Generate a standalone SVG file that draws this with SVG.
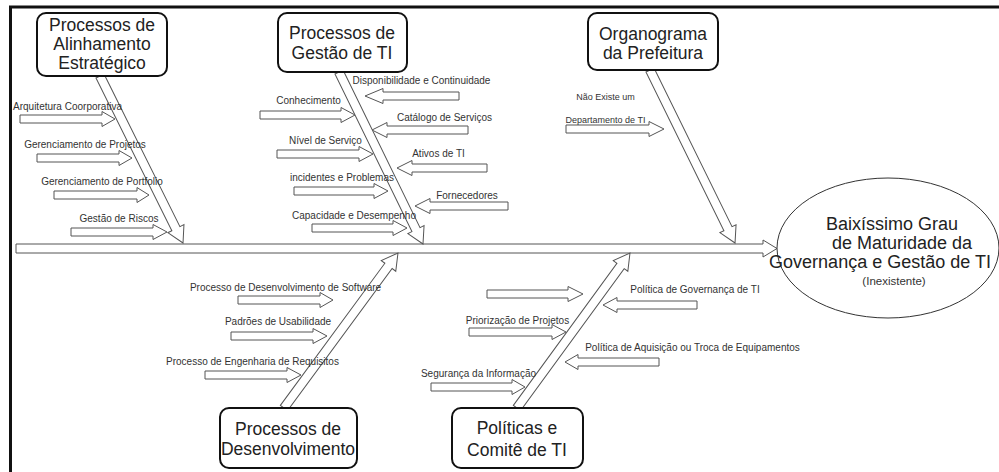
<svg xmlns="http://www.w3.org/2000/svg" width="999" height="472" viewBox="0 0 999 472">
<style>
.frame{stroke:#111;stroke-width:3;fill:none}
.box{fill:#fff;stroke:#111;stroke-width:2}
.bt{font-family:"Liberation Sans",Arial,sans-serif;font-size:17.5px;fill:#222;text-anchor:middle}
.lbl{font-family:"Liberation Sans",Arial,sans-serif;font-size:10px;fill:#333;text-anchor:middle}
.sm{font-size:9px}
.arr{fill:#fff;stroke:#555;stroke-width:1}
.bone{fill:#fff;stroke:#555;stroke-width:1}
.ell{fill:#fff;stroke:#333;stroke-width:1}
.et{font-family:"Liberation Sans",Arial,sans-serif;font-size:18px;fill:#222;text-anchor:middle}
.es{font-family:"Liberation Sans",Arial,sans-serif;font-size:11.5px;fill:#333;text-anchor:middle}
</style>
<rect width="999" height="472" fill="#fff"/>
<path class="frame" d="M10.5,472 V7 H999"/>
<g id="connectors">
<polygon class="bone" points="16,244 763,244 763,240 777,248.5 763,257 763,253 16,253"/>
<polygon class="bone" transform="translate(100,76) rotate(63.57)" points="0,-4.5 170.5,-4.5 170.5,-9 186.5,0 170.5,9 170.5,4.5 0,4.5"/>
<polygon class="bone" transform="translate(339,72) rotate(63.97)" points="0,-4.5 175.4,-4.5 175.4,-9 191.4,0 175.4,9 175.4,4.5 0,4.5"/>
<polygon class="bone" transform="translate(650,70) rotate(63.83)" points="0,-4.5 176.8,-4.5 176.8,-9 192.8,0 176.8,9 176.8,4.5 0,4.5"/>
<polygon class="bone" transform="translate(284,408) rotate(-53.67)" points="0,-4.5 176.4,-4.5 176.4,-9 192.4,0 176.4,9 176.4,4.5 0,4.5"/>
<polygon class="bone" transform="translate(517,408) rotate(-53.91)" points="0,-4.5 175.8,-4.5 175.8,-9 191.8,0 175.8,9 175.8,4.5 0,4.5"/>
<polygon class="arr" points="20,115 102,115 102,111.5 115,119 102,126.5 102,123 20,123"/>
<polygon class="arr" points="37,154 119,154 119,150.5 132,158 119,165.5 119,162 37,162"/>
<polygon class="arr" points="54,191 137,191 137,187.5 149,195 137,202.5 137,199 54,199"/>
<polygon class="arr" points="71,228 153,228 153,224.5 167,232 153,239.5 153,236 71,236"/>
<polygon class="arr" points="459,92 383,92 383,88.5 365,96 383,103.5 383,100 459,100"/>
<polygon class="arr" points="260,111 341,111 341,107.5 355,115 341,122.5 341,119 260,119"/>
<polygon class="arr" points="468,126 387,126 387,122.5 372,130 387,137.5 387,134 468,134"/>
<polygon class="arr" points="277,150 359,150 359,146.5 373,154 359,161.5 359,158 277,158"/>
<polygon class="arr" points="487,164 412,164 412,160.5 397,168 412,175.5 412,172 487,172"/>
<polygon class="arr" points="294,187 374,187 374,183.5 388,191 374,198.5 374,195 294,195"/>
<polygon class="arr" points="508,202 430,202 430,198.5 415,206 430,213.5 430,210 508,210"/>
<polygon class="arr" points="312,224 393,224 393,220.5 407,228 393,235.5 393,232 312,232"/>
<polygon class="arr" points="566,125 649,125 649,121.5 664,129 649,136.5 649,133 566,133"/>
<polygon class="arr" points="238,296 320,296 320,292.5 333,300 320,307.5 320,304 238,304"/>
<polygon class="arr" points="231,332 313,332 313,328.5 327,336 313,343.5 313,340 231,340"/>
<polygon class="arr" points="205,371 287,371 287,367.5 301,375 287,382.5 287,379 205,379"/>
<polygon class="arr" points="487,290 568,290 568,286.5 583,294 568,301.5 568,298 487,298"/>
<polygon class="arr" points="697,301 617,301 617,297.5 603,305 617,312.5 617,309 697,309"/>
<polygon class="arr" points="469,328 552,328 552,324.5 566,332 552,339.5 552,336 469,336"/>
<polygon class="arr" points="659,358 578,358 578,354.5 565,362 578,369.5 578,366 659,366"/>
<polygon class="arr" points="431,383 512,383 512,379.5 525,387 512,394.5 512,391 431,391"/>
</g>
<g id="labels">
<text class="lbl" x="67.5" y="110">Arquitetura Coorporativa</text>
<text class="lbl" x="85" y="148">Gerenciamento de Projetos</text>
<text class="lbl" x="102" y="185">Gerenciamento de Portfolio</text>
<text class="lbl" x="119" y="222">Gestão de Riscos</text>
<text class="lbl" x="421.5" y="84">Disponibilidade e Continuidade</text>
<text class="lbl" x="308.5" y="104">Conhecimento</text>
<text class="lbl" x="444.5" y="121">Catálogo de Serviços</text>
<text class="lbl" x="325.5" y="144">Nível de Serviço</text>
<text class="lbl" x="438.5" y="157">Ativos de TI</text>
<text class="lbl" x="342" y="181">incidentes e Problemas</text>
<text class="lbl" x="467" y="199">Fornecedores</text>
<text class="lbl" x="354" y="219">Capacidade e Desempenho</text>
<text class="lbl sm" x="605.5" y="100">Não Existe um</text>
<text class="lbl sm" x="605.5" y="123">Departamento de TI</text>
<text class="lbl" x="285.5" y="291">Processo de Desenvolvimento de Software</text>
<text class="lbl" x="278" y="325">Padrões de Usabilidade</text>
<text class="lbl" x="252.5" y="365">Processo de Engenharia de Requisitos</text>
<text class="lbl" x="695" y="293">Política de Governança de TI</text>
<text class="lbl" x="517.5" y="324">Priorização de Projetos</text>
<text class="lbl" x="692.5" y="351">Política de Aquisição ou Troca de Equipamentos</text>
<text class="lbl" x="478.5" y="377">Segurança da Informação</text>
</g>
<g id="node-alinhamento">
<rect class="box" x="37" y="13" width="130" height="63" rx="9"/>
<text class="bt" x="102" y="31">Processos de</text>
<text class="bt" x="102" y="50">Alinhamento</text>
<text class="bt" x="102" y="69">Estratégico</text>
</g>
<g id="node-gestao">
<rect class="box" x="278" y="13" width="129" height="59" rx="9"/>
<text class="bt" x="342" y="39">Processos de</text>
<text class="bt" x="342" y="59">Gestão de TI</text>
</g>
<g id="node-organograma">
<rect class="box" x="588" y="13" width="130" height="57" rx="9"/>
<text class="bt" x="653" y="40">Organograma</text>
<text class="bt" x="653" y="59">da Prefeitura</text>
</g>
<g id="node-desenvolvimento">
<rect class="box" x="220" y="408" width="137" height="60" rx="9"/>
<text class="bt" x="288" y="435">Processos de</text>
<text class="bt" x="288" y="455">Desenvolvimento</text>
</g>
<g id="node-politicas">
<rect class="box" x="452" y="408" width="131" height="60" rx="9"/>
<text class="bt" x="517" y="434">Políticas e</text>
<text class="bt" x="517" y="456">Comitê de TI</text>
</g>
<g id="node-efeito">
<ellipse class="ell" cx="888" cy="248" rx="111" ry="70"/>
<text class="et" x="892" y="230">Baixíssimo Grau</text>
<text class="et" x="902" y="249">de Maturidade da</text>
<text class="et" x="880" y="268">Governança e Gestão de TI</text>
<text class="es" x="894" y="285">(Inexistente)</text>
</g>
</svg>
